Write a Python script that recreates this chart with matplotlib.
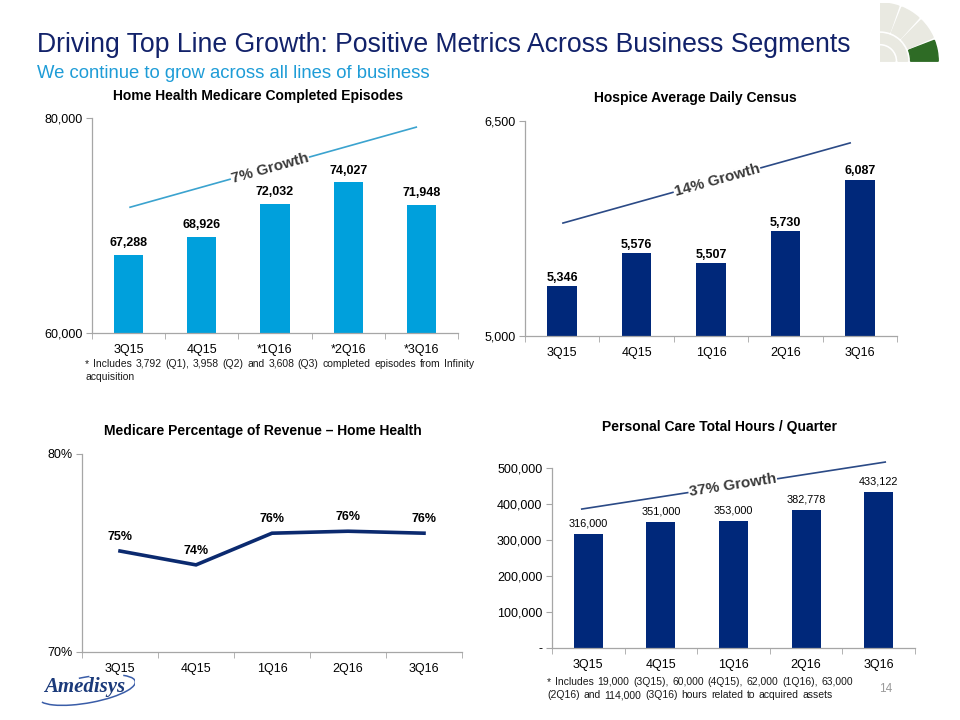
import matplotlib
matplotlib.use("Agg")
import matplotlib.pyplot as plt
from matplotlib.patches import Wedge, Arc
import numpy as np

plt.rcParams['font.family'] = ['Liberation Sans', 'DejaVu Sans']

# ---- data ----
quarters = ["3Q15", "4Q15", "1Q16", "2Q16", "3Q16"]
hh_labels = ["3Q15", "4Q15", "*1Q16", "*2Q16", "*3Q16"]
hh_episodes = [67288, 68926, 72032, 74027, 71948]
hospice_adc = [5346, 5576, 5507, 5730, 6087]
medicare_pct = [75.1, 74.4, 76.0, 76.1, 76.0]
medicare_pct_labels = ["75%", "74%", "76%", "76%", "76%"]
pc_hours = [316000, 351000, 353000, 382778, 433122]

# growth callouts: line ends (x0, y0, x1, y1), text spot (x, y), label
hh_growth = ((0.02, 71700, 3.93, 79150), (1.93, 75350), "7% Growth")
hospice_growth = ((0.01, 5788, 3.87, 6347), (2.08, 6088), "14% Growth")
pc_growth = ((-0.09, 386000, 4.09, 516500), (1.99, 451000), "37% Growth")

NAVY = "#00287A"
LIGHT_BLUE = "#00A0DC"
GREY = "#A6A6A6"

fig = plt.figure(figsize=(9.6, 7.2), dpi=100)


def px_axes(left, top, right, bottom):
    '''axes from pixel box'''
    return fig.add_axes([left / 960, 1 - bottom / 720,
                         (right - left) / 960, (bottom - top) / 720])


def style(ax, labels):
    for s in ["top", "right"]:
        ax.spines[s].set_visible(False)
    for s in ["left", "bottom"]:
        ax.spines[s].set_color(GREY)
        ax.spines[s].set_linewidth(0.9)
    n = len(labels)
    ax.set_xlim(-0.5, n - 0.5)
    ax.set_xticks(range(n))
    ax.set_xticklabels(labels)
    ax.set_xticks(np.arange(-0.5, n), minor=True)
    ax.tick_params(axis="x", which="major", length=0, labelsize=9, pad=8)
    ax.tick_params(axis="x", which="minor", length=4, color=GREY)
    ax.tick_params(axis="y", length=4, color=GREY, labelsize=9, pad=3)


def growth(ax, spec, color):
    (x0, y0, x1, y1), (tx, ty), label = spec
    ax.plot([x0, x1], [y0, y1], color=color, lw=1.2, clip_on=False, zorder=3)
    p0 = ax.transData.transform((x0, y0))
    p1 = ax.transData.transform((x1, y1))
    ang = np.degrees(np.arctan2(p1[1] - p0[1], p1[0] - p0[0]))
    ax.text(tx, ty, label, rotation=ang, rotation_mode="anchor",
            ha="center", va="center", fontsize=11, fontweight="bold",
            color="#3A3A3A", zorder=4,
            bbox=dict(facecolor="white", edgecolor="none", pad=0.5))


def justify(text, x0, x1, y, size):
    '''spread the words of one line between x0 and x1 (pixels)'''
    words = text.split()
    r = fig.canvas.get_renderer()
    arts = [fig.text(0, 1 - y / 720, w, fontsize=size, va="center",
                     color="#1A1A1A") for w in words]
    widths = [a.get_window_extent(r).width for a in arts]
    gap = (x1 - x0 - sum(widths)) / (len(words) - 1)
    x = x0
    for a, w in zip(arts, widths):
        a.set_x(x / 960)
        x += w + gap


# ---- headings ----
fig.text(37 / 960, 1 - 45 / 720,
         "Driving Top Line Growth: Positive Metrics Across Business Segments",
         fontsize=19.2, color="#12226A", va="center")
fig.text(37 / 960, 1 - 73 / 720, "We continue to grow across all lines of business",
         fontsize=13.3, color="#1E9CD7", va="center")

# ---- chart 1: home health episodes ----
ax1 = px_axes(92, 118, 458, 333)
x = np.arange(len(hh_episodes))
ax1.bar(x, hh_episodes, width=0.4, color=LIGHT_BLUE)
ax1.set_ylim(60000, 80000)
ax1.set_yticks([60000, 80000])
ax1.set_yticklabels([f"{v:,}" for v in [60000, 80000]])
style(ax1, hh_labels)
for xi, v in zip(x, hh_episodes):
    ax1.annotate(f"{v:,}", (xi, v), xytext=(0, 4), textcoords="offset points",
                 ha="center", va="bottom", fontsize=9, fontweight="bold")
growth(ax1, hh_growth, "#3BA3CF")
fig.text(258 / 960, 1 - 96 / 720, "Home Health Medicare Completed Episodes",
         fontsize=10, fontweight="bold", ha="center", va="center")

# ---- chart 2: hospice ADC ----
ax2 = px_axes(525, 121, 897, 336)
ax2.bar(x, hospice_adc, width=0.4, color=NAVY)
ax2.set_ylim(5000, 6500)
ax2.set_yticks([5000, 6500])
ax2.set_yticklabels([f"{v:,}" for v in [5000, 6500]])
style(ax2, quarters)
for xi, v in zip(x, hospice_adc):
    ax2.annotate(f"{v:,}", (xi, v), xytext=(0, 2), textcoords="offset points",
                 ha="center", va="bottom", fontsize=9, fontweight="bold")
growth(ax2, hospice_growth, "#2B4A86")
fig.text(695 / 960, 1 - 98 / 720, "Hospice Average Daily Census",
         fontsize=10, fontweight="bold", ha="center", va="center")

# ---- chart 3: medicare % of revenue ----
ax3 = px_axes(82, 454, 462, 652)
ax3.plot(x, medicare_pct, color="#0B2A6F", lw=2.6, solid_joinstyle="miter")
ax3.set_ylim(70, 80)
ax3.set_yticks([70, 80])
ax3.set_yticklabels(["70%", "80%"])
style(ax3, quarters)
for xi, v, lab in zip(x, medicare_pct, medicare_pct_labels):
    ax3.annotate(lab, (xi, v), xytext=(0, 6), textcoords="offset points",
                 ha="center", va="bottom", fontsize=9, fontweight="bold")
fig.text(263 / 960, 1 - 431 / 720, "Medicare Percentage of Revenue \u2013 Home Health",
         fontsize=10, fontweight="bold", ha="center", va="center")

# ---- chart 4: personal care hours ----
ax4 = px_axes(552, 468, 915, 648)
ax4.bar(x, pc_hours, width=0.4, color=NAVY)
ax4.set_ylim(0, 500000)
pc_ticks = [0, 100000, 200000, 300000, 400000, 500000]
ax4.set_yticks(pc_ticks)
ax4.set_yticklabels([f"{v:,}" if v else "-" for v in pc_ticks])
style(ax4, quarters)
for xi, v in zip(x, pc_hours):
    ax4.annotate(f"{v:,}", (xi, v), xytext=(0, 4), textcoords="offset points",
                 ha="center", va="bottom", fontsize=7.8)
growth(ax4, pc_growth, "#2B4A86")
fig.text(719 / 960, 1 - 427 / 720, "Personal Care Total Hours / Quarter",
         fontsize=10, fontweight="bold", ha="center", va="center")

# ---- footnotes ----
justify("* Includes 3,792 (Q1), 3,958 (Q2) and 3,608 (Q3) completed episodes from Infinity",
        85, 474, 364, 7.5)
fig.text(85 / 960, 1 - 377 / 720, "acquisition", fontsize=7.5, va="center", color="#1A1A1A")
justify("* Includes 19,000 (3Q15), 60,000 (4Q15), 62,000 (1Q16), 63,000",
        547, 853, 682, 7.5)
justify("(2Q16) and 114,000 (3Q16) hours related to acquired assets",
        547, 833, 695, 7.5)
fig.text(886 / 960, 1 - 689 / 720, "14", fontsize=8.5, color="#9A9A9A",
         ha="center", va="center")

# ---- fan logo, top right ----
lg = px_axes(880, 3, 940, 63)
lg.set_xlim(0, 1)
lg.set_ylim(0, 1)
lg.axis("off")
beige = "#E9E9E1"
c = (0, 0.03)
lg.add_patch(Wedge(c, 0.25, 0, 90, color=beige))
lg.add_patch(Wedge(c, 0.46, 0, 90, width=0.16, color=beige))
for t1, t2, col in [(0, 21, "#2E6B25"), (24, 45, beige), (48, 68, beige), (71, 90, beige)]:
    lg.add_patch(Wedge(c, 0.97, t1, t2, width=0.46, color=col))

# ---- Amedisys logo, bottom left ----
am = px_axes(35, 667, 135, 712)
am.set_xlim(0, 100)
am.set_ylim(0, 45)
am.axis("off")
am.add_patch(Arc((52, 22), 98, 26, angle=10, theta1=185, theta2=372,
                 color="#3A5DA8", lw=1.1))
am.add_patch(Arc((52, 22), 98, 26, angle=10, theta1=70, theta2=115,
                 color="#3A5DA8", lw=1.1))
am.text(50, 25, "Amedisys", family=["Liberation Serif", "DejaVu Serif"],
        fontsize=15, fontweight="bold", fontstyle="italic", color="#1B3A7A",
        ha="center", va="center")

fig.savefig("out.png", dpi=100)
